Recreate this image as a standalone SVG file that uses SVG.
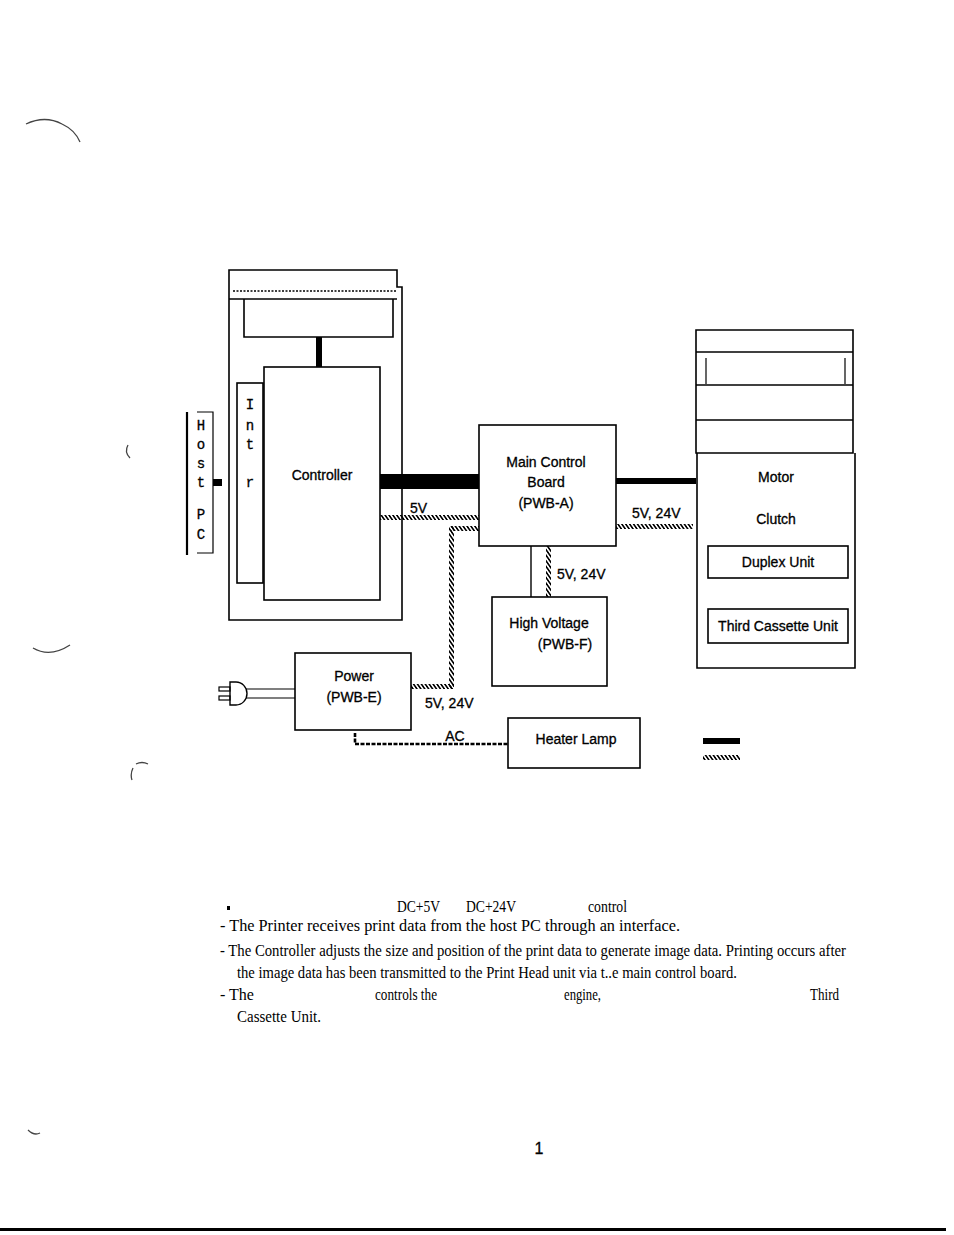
<svg xmlns="http://www.w3.org/2000/svg" width="954" height="1235" viewBox="0 0 954 1235">
<style>
.box{fill:none;stroke:#000;stroke-width:1.6}
.thin{fill:none;stroke:#000;stroke-width:1.2}
.lbl{font-family:"Liberation Sans",Arial,sans-serif;font-size:14px;fill:#000;stroke:#000;stroke-width:0.3;text-anchor:middle}
.mono{font-family:"Liberation Mono","Courier New",monospace;font-size:14px;fill:#000;stroke:#000;stroke-width:0.3;text-anchor:middle}
.body{font-family:"Liberation Serif","Times New Roman",serif;font-size:16px;fill:#000}
.thick{fill:#000}
.hatch{fill:url(#hatch)}
.smudge{fill:none;stroke:#444;stroke-width:1.3}
</style>
<defs>
<pattern id="hatch" patternUnits="userSpaceOnUse" width="3.2" height="8" patternTransform="rotate(-35)">
<rect width="1.6" height="8" fill="#000"/>
</pattern>
</defs>
<rect width="954" height="1235" fill="#fff"/>

<!-- scan smudges -->
<path class="smudge" d="M26,124 Q45,115 62,124 Q75,130 80,142"/>
<path class="smudge" d="M128,445 Q124,452 130,458" />
<path class="smudge" d="M33,648 Q50,658 70,645"/>
<path class="smudge" d="M133,768 Q130,774 132,780 M136,764 Q142,761 148,764"/>
<path class="smudge" d="M28,1130 Q34,1136 40,1133"/>

<g id="enclosure">
<path class="box" d="M229,270 H397 V287 H402 V620 H229 Z"/>
<line x1="233" y1="291" x2="397" y2="291" stroke="#000" stroke-width="1.4" stroke-dasharray="2,1.5"/>
<line class="box" x1="229" y1="299" x2="397" y2="299"/>
<path class="box" d="M244,299 V337 H393 V299"/>
</g>

<g id="host-pc">
<line x1="187" y1="412" x2="187" y2="555" stroke="#000" stroke-width="2.2"/>
<path class="thin" d="M197,412 H213 V553 H197"/>
<text class="mono" x="201" y="430">H</text>
<text class="mono" x="201" y="449">o</text>
<text class="mono" x="201" y="468">s</text>
<text class="mono" x="201" y="487">t</text>
<text class="mono" x="201" y="519">P</text>
<text class="mono" x="201" y="539">C</text>
</g>

<g id="interface">
<rect class="box" x="237" y="383" width="26" height="200"/>
<text class="mono" x="250" y="409">I</text>
<text class="mono" x="250" y="430">n</text>
<text class="mono" x="250" y="449">t</text>
<text class="mono" x="250" y="487">r</text>
</g>

<g id="controller">
<rect class="box" x="264" y="367" width="116" height="233"/>
<text class="lbl" x="322" y="480">Controller</text>
</g>

<g id="main-control-board">
<rect class="box" x="479" y="425" width="137" height="121"/>
<text class="lbl" x="546" y="467">Main Control</text>
<text class="lbl" x="546" y="487">Board</text>
<text class="lbl" x="546" y="508">(PWB-A)</text>
</g>

<g id="right-units">
<path class="box" d="M696,330 H853 V453 H696 Z"/>
<line class="box" x1="696" y1="352" x2="853" y2="352"/>
<line class="box" x1="696" y1="385" x2="853" y2="385"/>
<line class="box" x1="696" y1="420" x2="853" y2="420"/>
<line class="thin" x1="706" y1="358" x2="706" y2="384"/>
<line class="thin" x1="845" y1="358" x2="845" y2="384"/>
<path class="box" d="M697,453 V668 H855 V453"/>
<text class="lbl" x="776" y="482">Motor</text>
<text class="lbl" x="776" y="524">Clutch</text>
</g>

<g id="duplex-unit">
<rect class="box" x="708" y="546" width="140" height="32"/>
<text class="lbl" x="778" y="567">Duplex Unit</text>
</g>

<g id="third-cassette-unit">
<rect class="box" x="708" y="609" width="140" height="34"/>
<text class="lbl" x="778" y="631">Third Cassette Unit</text>
</g>

<g id="high-voltage">
<rect class="box" x="492" y="597" width="115" height="89"/>
<text class="lbl" x="549" y="628">High Voltage</text>
<text class="lbl" x="565" y="649">(PWB-F)</text>
</g>

<g id="power">
<rect class="box" x="295" y="653" width="116" height="77"/>
<text class="lbl" x="354" y="681">Power</text>
<text class="lbl" x="354" y="702">(PWB-E)</text>
<path class="thin" d="M240,689 H295 M240,698 H295"/>
<path d="M230,682 H236 A11,11.5 0 0 1 236,705 H230 Z" fill="#fff" stroke="#000" stroke-width="1.4"/>
<rect class="thin" x="219" y="687" width="11" height="4"/>
<rect class="thin" x="219" y="696" width="11" height="4"/>
</g>

<g id="heater-lamp">
<rect class="box" x="508" y="718" width="132" height="50"/>
<text class="lbl" x="576" y="744">Heater Lamp</text>
</g>

<g id="connectors">
<rect class="thick" x="316" y="337" width="6" height="30"/>
<rect class="thick" x="213" y="479" width="9" height="7"/>
<rect class="thick" x="380" y="474" width="99" height="15"/>
<rect class="thick" x="616" y="478" width="80" height="6"/>
<rect class="hatch" x="380" y="515" width="99" height="5"/>
<rect class="hatch" x="451" y="526" width="28" height="5"/>
<rect class="hatch" x="449" y="526" width="5" height="163"/>
<rect class="hatch" x="411" y="684" width="43" height="5"/>
<rect class="hatch" x="616" y="524" width="77" height="5"/>
<line x1="531" y1="546" x2="531" y2="597" stroke="#000" stroke-width="1.4"/>
<rect class="hatch" x="546" y="546" width="5" height="51"/>
<path d="M355,733 V744 H508" fill="none" stroke="#000" stroke-width="2.6" stroke-dasharray="4,1.5"/>
<text class="lbl" x="410" y="513" style="text-anchor:start">5V</text>
<text class="lbl" x="632" y="518" style="text-anchor:start">5V, 24V</text>
<text class="lbl" x="557" y="579" style="text-anchor:start">5V, 24V</text>
<text class="lbl" x="425" y="708" style="text-anchor:start">5V, 24V</text>
<text class="lbl" x="455" y="741">AC</text>
</g>

<g id="legend">
<rect class="thick" x="703" y="738" width="37" height="6"/>
<rect class="hatch" x="703" y="755" width="37" height="5"/>
</g>

<g id="description">
<rect x="227" y="906" width="3" height="4" fill="#000"/>
<text class="body" x="397" y="912" textLength="43" lengthAdjust="spacingAndGlyphs">DC+5V</text>
<text class="body" x="466" y="912" textLength="50" lengthAdjust="spacingAndGlyphs">DC+24V</text>
<text class="body" x="588" y="912" textLength="39" lengthAdjust="spacingAndGlyphs">control</text>
<text class="body" x="220" y="931" textLength="460" lengthAdjust="spacingAndGlyphs">- The Printer receives print data from the host PC through an interface.</text>
<text class="body" x="220" y="956" textLength="626" lengthAdjust="spacingAndGlyphs">- The Controller adjusts the size and position of the print data to generate image data. Printing occurs after</text>
<text class="body" x="237" y="978" textLength="500" lengthAdjust="spacingAndGlyphs">the image data has been transmitted to the Print Head unit via t..e main control board.</text>
<text class="body" x="220" y="1000" textLength="34" lengthAdjust="spacingAndGlyphs">- The</text>
<text class="body" x="375" y="1000" textLength="62" lengthAdjust="spacingAndGlyphs">controls the</text>
<text class="body" x="564" y="1000" textLength="37" lengthAdjust="spacingAndGlyphs">engine,</text>
<text class="body" x="810" y="1000" textLength="29" lengthAdjust="spacingAndGlyphs">Third</text>
<text class="body" x="237" y="1022" textLength="84" lengthAdjust="spacingAndGlyphs">Cassette Unit.</text>
</g>

<text class="lbl" x="539" y="1154" style="font-size:16px">1</text>
<rect x="0" y="1228" width="946" height="3" fill="#000"/>
</svg>
